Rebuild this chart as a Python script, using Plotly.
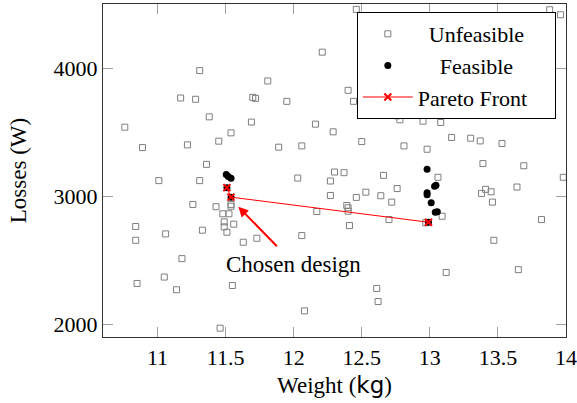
import plotly.graph_objects as go

# Unfeasible designs (weight kg, losses W)
unf_w = [12.21, 11.31, 11.81, 12.40, 11.17, 11.28, 11.70, 11.72, 11.95, 12.44,
         11.38, 10.76, 11.69, 11.54, 12.16, 12.29, 10.89, 11.22, 11.45, 11.89,
         12.06, 11.36, 12.30, 12.37, 11.01, 11.31, 12.03, 12.27, 12.27, 12.46,
         13.88, 13.96, 12.76, 12.78, 12.95, 13.08, 12.50, 12.81, 12.98, 13.16,
         13.30, 13.37, 13.53, 13.39, 13.69, 12.66, 13.06, 13.98, 12.53, 12.64,
         12.76, 12.46, 13.38, 13.41, 13.45, 13.64, 12.39, 12.40, 12.40, 11.26,
         11.43, 11.54, 11.54, 11.48, 11.525, 11.49, 11.56, 11.49, 11.51, 12.17,
         10.84, 11.33, 11.06, 10.84, 11.63, 11.73, 12.06, 12.41, 11.18, 11.05,
         10.85, 11.14, 11.55, 12.08, 11.46, 12.72, 12.70, 13.09, 12.97, 13.46,
         13.82, 13.47, 13.12, 13.65, 12.61, 12.62]
unf_l = [4124, 3980, 3899, 3826, 3766, 3756, 3771, 3763, 3740, 3740,
         3619, 3538, 3578, 3494, 3562, 3502, 3379, 3400, 3429, 3382,
         3392, 3248, 3188, 3183, 3121, 3121, 3141, 3118, 3005, 4458,
         4455, 4416, 3627, 3596, 3585, 3575, 3426, 3392, 3366, 3458,
         3452, 3431, 3411, 3254, 3237, 3162, 3147, 3147, 3031, 3003,
         3059, 2990, 3021, 3053, 3034, 3071, 2927, 2909, 2882, 2935,
         2917, 2935, 2921, 2862, 2862, 2799, 2781, 2760, 2718, 2880,
         2763, 2734, 2705, 2655, 2640, 2671, 2692, 2770, 2512, 2368,
         2318, 2269, 2302, 2104, 1969, 2953, 2817, 2843, 2792, 2953,
         2817, 2655, 2404, 2426, 2279, 2177]

# Feasible designs
fea_w = [11.505, 11.52, 11.54, 11.51, 11.54,
         12.98, 13.035, 13.045, 12.98, 12.98, 13.01, 13.04, 13.055, 12.99]
fea_l = [3168, 3154, 3139, 3066, 2992,
         3209, 3078, 3084, 3027, 3011, 2948, 2875, 2878, 2796]

# Pareto front
par_w = [11.51, 11.54, 12.99]
par_l = [3066, 2992, 2796]

# Chosen design annotation
chosen_w, chosen_l = 11.594, 2917
label_w, label_l = 12.0, 2465

SERIF = "Liberation Serif"
NB = "\u00a0"

fig = go.Figure()
fig.add_trace(go.Scatter(
    x=unf_w, y=unf_l, mode="markers", name=NB * 2 + "Unfeasible",
    marker=dict(symbol="square-open", size=6, color="#7f7f7f", line=dict(width=1))))
fig.add_trace(go.Scatter(
    x=fea_w, y=fea_l, mode="markers", name=NB * 4 + "Feasible",
    marker=dict(symbol="circle", size=7, color="black")))
fig.add_trace(go.Scatter(
    x=par_w, y=par_l, mode="lines+markers", name="Pareto Front" + NB * 4,
    line=dict(color="red", width=1),
    marker=dict(symbol="x-thin", size=7, color="red", line=dict(width=2, color="red"))))

fig.add_annotation(x=chosen_w, y=chosen_l, xref="x", yref="y",
                   ax=39, ay=40, axref="pixel", ayref="pixel",
                   text="", font=dict(size=1), borderpad=0,
                   showarrow=True, arrowhead=2, arrowsize=1,
                   arrowwidth=2, arrowcolor="red", standoff=0, startstandoff=0)
fig.add_annotation(x=label_w, y=label_l, xref="x", yref="y", text="Chosen design",
                   showarrow=False, font=dict(family=SERIF, size=23, color="black"))

axis_common = dict(showgrid=False, zeroline=False, ticks="inside", ticklen=10,
                   tickcolor="#a0a0a0", tickwidth=1.2, showline=True,
                   linecolor="#333333", linewidth=1.2, mirror="ticks",
                   automargin=False,
                   tickfont=dict(family=SERIF, size=22, color="black"))

fig.update_xaxes(range=[10.6, 14], tickvals=[11, 11.5, 12, 12.5, 13, 13.5, 14],
                 title=dict(text='Weight (<span style="font-family:DejaVu Sans">kg</span>)',
                            font=dict(family=SERIF, size=23, color="black"), standoff=8),
                 **axis_common)
fig.update_yaxes(range=[1900, 4500], tickvals=[2000, 3000, 4000],
                 title=dict(text="Losses (W)", font=dict(family=SERIF, size=23, color="black"),
                            standoff=20),
                 **axis_common)

fig.update_layout(
    width=577, height=403,
    margin=dict(l=103, r=11, t=4, b=66),
    paper_bgcolor="white", plot_bgcolor="white",
    legend=dict(x=0.978, y=0.976, xanchor="right", yanchor="top",
                bgcolor="white", bordercolor="black", borderwidth=1,
                font=dict(family=SERIF, size=22, color="black"),
                itemwidth=50, tracegroupgap=0),
    showlegend=True,
)

fig.write_html("out.html", config={"displayModeBar": False},
               post_script="document.body.style.margin='0';")
